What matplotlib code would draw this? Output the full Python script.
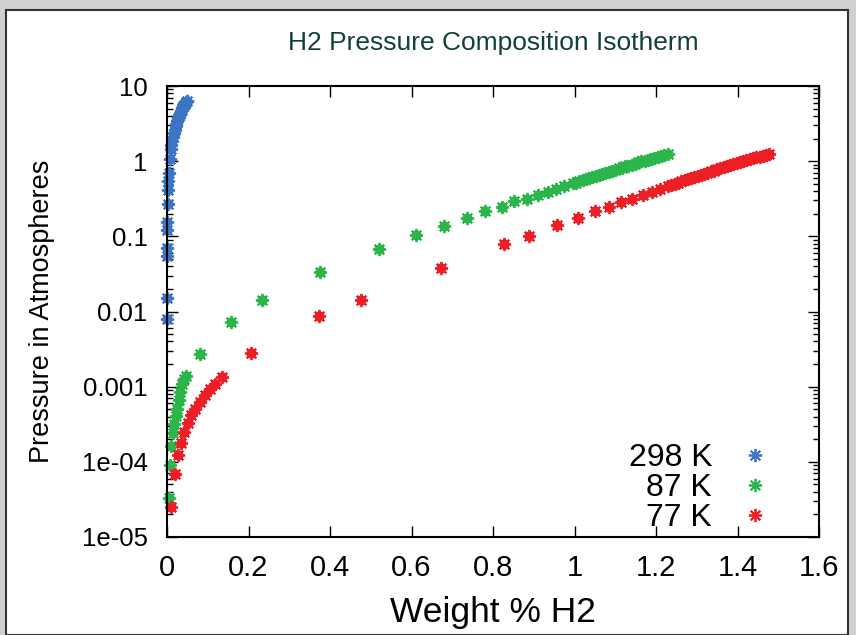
import matplotlib.pyplot as plt
from matplotlib.patches import Rectangle
from matplotlib.ticker import LogLocator, FixedLocator, NullFormatter

plt.rcParams['font.family'] = ['Liberation Sans', 'DejaVu Sans']

# Data: weight % H2 vs pressure (atm)
w_298 = [0.000, 0.000, 0.000, 0.000, 0.000, 0.000, 0.002, 0.002, 0.002, 0.004,
         0.007, 0.009, 0.011, 0.013, 0.015, 0.017, 0.019, 0.021, 0.023, 0.025,
         0.027, 0.029, 0.031, 0.034, 0.036, 0.038, 0.040, 0.042, 0.044, 0.046,
         0.048, 0.050]
p_298 = [0.008, 0.015, 0.054, 0.069, 0.12, 0.156, 0.27, 0.41, 0.54, 0.70,
         1.07, 1.43, 1.65, 1.84, 2.1, 2.38, 2.6, 2.9, 3.1, 3.4,
         3.76, 3.95, 4.2, 4.6, 4.85, 5.1, 5.4, 5.66, 5.85, 6.05,
         6.25, 6.4]

w_87 = [0.004, 0.008, 0.011, 0.014, 0.018, 0.022, 0.025, 0.029, 0.033, 0.038,
        0.042, 0.047, 0.080, 0.157, 0.233, 0.376, 0.521, 0.611, 0.679, 0.736,
        0.781, 0.821, 0.852, 0.883, 0.910, 0.934, 0.955, 0.975, 0.996,
        1.004, 1.012, 1.020, 1.028, 1.036, 1.044, 1.052, 1.060, 1.068, 1.076,
        1.084, 1.092, 1.100, 1.108, 1.116, 1.124, 1.132, 1.140, 1.148, 1.156,
        1.164, 1.172, 1.180, 1.188, 1.196, 1.204, 1.212, 1.220, 1.230]
p_87 = [3.3e-5, 9e-5, 1.6e-4, 2.4e-4, 3.2e-4, 4.1e-4, 5.1e-4, 6.6e-4, 8.5e-4, 1.1e-3,
        1.25e-3, 1.4e-3, 2.7e-3, 7.3e-3, 0.0142, 0.034, 0.068, 0.104, 0.138, 0.176,
        0.22, 0.247, 0.293, 0.313, 0.36, 0.39, 0.425, 0.47, 0.506,
        0.52, 0.54, 0.56, 0.58, 0.60, 0.62, 0.64, 0.66, 0.68, 0.70,
        0.72, 0.75, 0.77, 0.80, 0.82, 0.85, 0.87, 0.90, 0.93, 0.96,
        0.99, 1.02, 1.05, 1.08, 1.11, 1.14, 1.17, 1.20, 1.24]

w_77 = [0.011, 0.019, 0.027, 0.034, 0.042, 0.052, 0.060, 0.069, 0.082, 0.094,
        0.106, 0.118, 0.135, 0.206, 0.372, 0.475, 0.672, 0.827, 0.889, 0.958,
        1.008, 1.050, 1.084, 1.115, 1.142, 1.169, 1.190, 1.210, 1.230,
        1.238, 1.246, 1.254, 1.262, 1.270, 1.278, 1.286, 1.294, 1.302, 1.310,
        1.318, 1.326, 1.334, 1.342, 1.350, 1.358, 1.366, 1.374, 1.382, 1.390,
        1.398, 1.406, 1.414, 1.422, 1.430, 1.438, 1.446, 1.454, 1.462, 1.470,
        1.478]
p_77 = [2.5e-5, 6.9e-5, 1.25e-4, 1.8e-4, 2.5e-4, 3.3e-4, 4.2e-4, 5.1e-4, 6.3e-4, 7.7e-4,
        9.4e-4, 1.1e-3, 1.35e-3, 2.8e-3, 8.6e-3, 0.0142, 0.038, 0.078, 0.102, 0.141,
        0.176, 0.218, 0.247, 0.29, 0.31, 0.36, 0.39, 0.42, 0.47,
        0.48, 0.50, 0.52, 0.54, 0.56, 0.58, 0.60, 0.62, 0.64, 0.66,
        0.68, 0.70, 0.73, 0.75, 0.78, 0.80, 0.83, 0.85, 0.88, 0.91,
        0.94, 0.97, 1.00, 1.03, 1.06, 1.09, 1.12, 1.15, 1.18, 1.21,
        1.24]

series = [("298 K", w_298, p_298, "#3b75c4"),
          ("87 K", w_87, p_87, "#2bb54a"),
          ("77 K", w_77, p_77, "#ec1f26")]

x_ticks = [0, 0.2, 0.4, 0.6, 0.8, 1, 1.2, 1.4, 1.6]
x_labels = ["0", "0.2", "0.4", "0.6", "0.8", "1", "1.2", "1.4", "1.6"]
y_ticks = [1e-5, 1e-4, 1e-3, 1e-2, 1e-1, 1, 10]
y_labels = ["1e-05", "1e-04", "0.001", "0.01", "0.1", "1", "10"]

fig = plt.figure(figsize=(8.56, 6.35), dpi=100, facecolor="#cfd0d2")
# white panel with dark border, like the screenshot frame
fig.add_artist(Rectangle((6 / 856, 0), 842 / 856, 625 / 635, transform=fig.transFigure,
                         facecolor="white", edgecolor="#333333", linewidth=1.5, zorder=-5))

ax = fig.add_axes([167 / 856, 98 / 635, 652 / 856, 451 / 635])
ax.set_facecolor("white")

for label, w, p, c in series:
    ax.plot(w, p, linestyle="none", marker="o", ms=6.5, color=c, mec=c, clip_on=False)
    ax.plot(w, p, linestyle="none", marker=(8, 2, 0), ms=9.5, mew=1.3, color=c,
            label=label, clip_on=False)

ax.set_yscale("log")
ax.set_xlim(0, 1.6)
ax.set_ylim(1e-5, 10)
ax.xaxis.set_major_locator(FixedLocator(x_ticks))
ax.set_xticklabels(x_labels)
ax.yaxis.set_major_locator(FixedLocator(y_ticks))
ax.set_yticklabels(y_labels)
ax.yaxis.set_minor_locator(LogLocator(base=10, subs=range(2, 10)))
ax.yaxis.set_minor_formatter(NullFormatter())

ax.tick_params(which="both", direction="in", top=True, right=True, color="black")
ax.tick_params(which="major", length=8, width=1)
ax.tick_params(which="minor", length=4, width=1)
ax.tick_params(axis="x", labelsize=21, pad=12)
ax.tick_params(axis="y", labelsize=18.5, pad=14)
for s in ax.spines.values():
    s.set_linewidth(1.5)

ax.set_title("H2 Pressure Composition Isotherm", fontsize=19, color="#12403a", pad=26)
ax.set_xlabel("Weight % H2", fontsize=25.5, labelpad=10)
ax.set_ylabel("Pressure in Atmospheres", fontsize=19.5, labelpad=19)

leg = ax.legend(loc="lower right", markerfirst=False, frameon=False, fontsize=23,
                handlelength=0.8, handletextpad=0.95, labelspacing=0.0,
                borderpad=0, borderaxespad=0, bbox_to_anchor=(0.922, 0.008))
for t in leg.get_texts():
    t.set_ha("right")

plt.savefig("out.png", dpi=100, facecolor=fig.get_facecolor())
